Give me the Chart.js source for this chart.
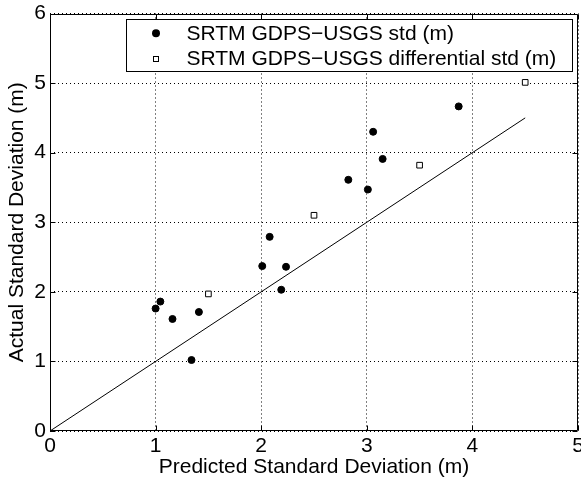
<!DOCTYPE html>
<html>
<head>
<meta charset="utf-8">
<script src="https://cdn.jsdelivr.net/npm/chart.js@4/dist/chart.umd.min.js"></script>
<style>
html,body{margin:0;padding:0;background:#fff;}
#wrap{width:581px;height:480px;}
</style>
</head>
<body>
<div id="wrap"><canvas id="c" width="581" height="480"></canvas></div>
<script>
// ---- data ----
const stdLabel = 'SRTM GDPS\u2212USGS std (m)';
const diffLabel = 'SRTM GDPS\u2212USGS differential std (m)';
const stdX = [1.00, 1.045, 1.16, 1.34, 1.41, 2.01, 2.08, 2.19, 2.235, 2.825, 3.01, 3.06, 3.15, 3.87];
const stdY = [1.76, 1.86, 1.61, 1.02, 1.71, 2.37, 2.79, 2.03, 2.36, 3.61, 3.47, 4.30, 3.91, 4.665];
const diffX = [1.5, 2.5, 3.5, 4.5];
const diffY = [1.97, 3.10, 3.82, 5.01];
const lineX = [0, 4.5];
const lineY = [0, 4.5];
const xTickVals = [0, 1, 2, 3, 4, 5];
const yTickVals = [0, 1, 2, 3, 4, 5, 6];
const xTitle = 'Predicted Standard Deviation (m)';
const yTitle = 'Actual Standard Deviation (m)';

const FONT = '"Liberation Sans", Arial, Helvetica, sans-serif';
const FS = 21;

function pts(xs, ys) { return xs.map((x, i) => ({x: x, y: ys[i]})); }

// frame + inward tick marks (MATLAB style)
const framePlugin = {
  id: 'frame',
  afterDatasetsDraw(chart) {
    const {ctx, chartArea: a, scales} = chart;
    ctx.save();
    ctx.strokeStyle = '#000';
    ctx.lineWidth = 1;
    const L = Math.round(a.left) + 0.5, R = Math.round(a.right) - 0.5;
    const T = Math.round(a.top) + 0.5, B = Math.round(a.bottom) - 0.5;
    ctx.beginPath();
    ctx.rect(L, T, R - L, B - T);
    ctx.stroke();
    const tl = 5;
    ctx.beginPath();
    xTickVals.forEach(v => {
      const px = Math.round(scales.x.getPixelForValue(v)) + 0.5;
      ctx.moveTo(px, B); ctx.lineTo(px, B - tl);
      ctx.moveTo(px, T); ctx.lineTo(px, T + tl);
    });
    yTickVals.forEach(v => {
      const py = Math.round(scales.y.getPixelForValue(v)) + 0.5;
      ctx.moveTo(L, py); ctx.lineTo(L + tl, py);
      ctx.moveTo(R, py); ctx.lineTo(R - tl, py);
    });
    ctx.stroke();
    ctx.restore();
  }
};

// legend box inside the axes, upper right
const legendPlugin = {
  id: 'boxLegend',
  afterDraw(chart) {
    const {ctx} = chart;
    const box = {l: 126.5, t: 19.5, r: 572.5, b: 71.5};
    ctx.save();
    ctx.fillStyle = '#fff';
    ctx.fillRect(box.l, box.t, box.r - box.l, box.b - box.t);
    ctx.strokeStyle = '#000';
    ctx.lineWidth = 1;
    ctx.strokeRect(box.l, box.t, box.r - box.l, box.b - box.t);
    const rows = [33.3, 59];
    const mx = 156;
    ctx.beginPath();
    ctx.arc(mx, rows[0], 4, 0, Math.PI * 2);
    ctx.fillStyle = '#000';
    ctx.fill();
    ctx.fillStyle = '#fff';
    ctx.fillRect(mx - 2.5, rows[1] - 2.5, 5, 5);
    ctx.strokeRect(mx - 2.5, rows[1] - 2.5, 5, 5);
    ctx.fillStyle = '#000';
    ctx.font = FS + 'px ' + FONT;
    ctx.textAlign = 'left';
    ctx.textBaseline = 'middle';
    const ds = chart.data.datasets;
    ctx.fillText(ds[0].label, 186.5, rows[0] + 0.5);
    ctx.fillText(ds[1].label, 186.5, rows[1] + 0.5);
    ctx.restore();
  }
};

new Chart(document.getElementById('c'), {
  type: 'scatter',
  data: {
    datasets: [
      {
        label: stdLabel,
        data: pts(stdX, stdY),
        pointStyle: 'circle',
        pointRadius: 3.5,
        pointBorderWidth: 1,
        backgroundColor: '#000',
        borderColor: '#000',
        order: 2
      },
      {
        label: diffLabel,
        data: pts(diffX, diffY),
        pointStyle: 'rect',
        pointRadius: 4,
        pointBorderWidth: 1,
        backgroundColor: '#fff',
        borderColor: '#000',
        order: 1
      },
      {
        label: 'y = x',
        data: pts(lineX, lineY),
        showLine: true,
        pointRadius: 0,
        borderColor: '#000',
        borderWidth: 1,
        order: 0
      }
    ]
  },
  options: {
    responsive: false,
    animation: false,
    devicePixelRatio: 1,
    layout: {autoPadding: false, padding: {top: 13.5, right: 3, left: 0, bottom: 0}},
    plugins: {legend: {display: false}, tooltip: {enabled: false}},
    scales: {
      x: {
        type: 'linear', min: 0, max: 5,
        afterBuildTicks(s) { s.ticks = xTickVals.map(v => ({value: v})); },
        afterFit(s) { s.height = 49; s.paddingLeft = 0; s.paddingRight = 0; },
        ticks: {
          color: '#000', padding: 3, maxRotation: 0, autoSkip: false,
          font: {family: FONT, size: FS, lineHeight: 1.2}
        },
        grid: {color: '#000', lineWidth: 1, drawTicks: false},
        border: {display: false, dash: [1, 3]},
        title: {
          display: true, text: xTitle, color: '#000',
          font: {family: FONT, size: FS, lineHeight: 1.2},
          padding: {top: 0, bottom: 0}
        }
      },
      y: {
        type: 'linear', min: 0, max: 6,
        afterBuildTicks(s) { s.ticks = yTickVals.map(v => ({value: v})); },
        afterFit(s) { s.width = 50; s.paddingTop = 0; s.paddingBottom = 0; },
        ticks: {
          color: '#000', padding: 4, autoSkip: false,
          font: {family: FONT, size: FS, lineHeight: 1.2}
        },
        grid: {color: '#000', lineWidth: 1, drawTicks: false},
        border: {display: false, dash: [1, 3]},
        title: {
          display: true, text: yTitle, color: '#000',
          font: {family: FONT, size: FS, lineHeight: 1.2},
          padding: {top: 5, bottom: 0}
        }
      }
    }
  },
  plugins: [framePlugin, legendPlugin]
});
</script>
</body>
</html>
